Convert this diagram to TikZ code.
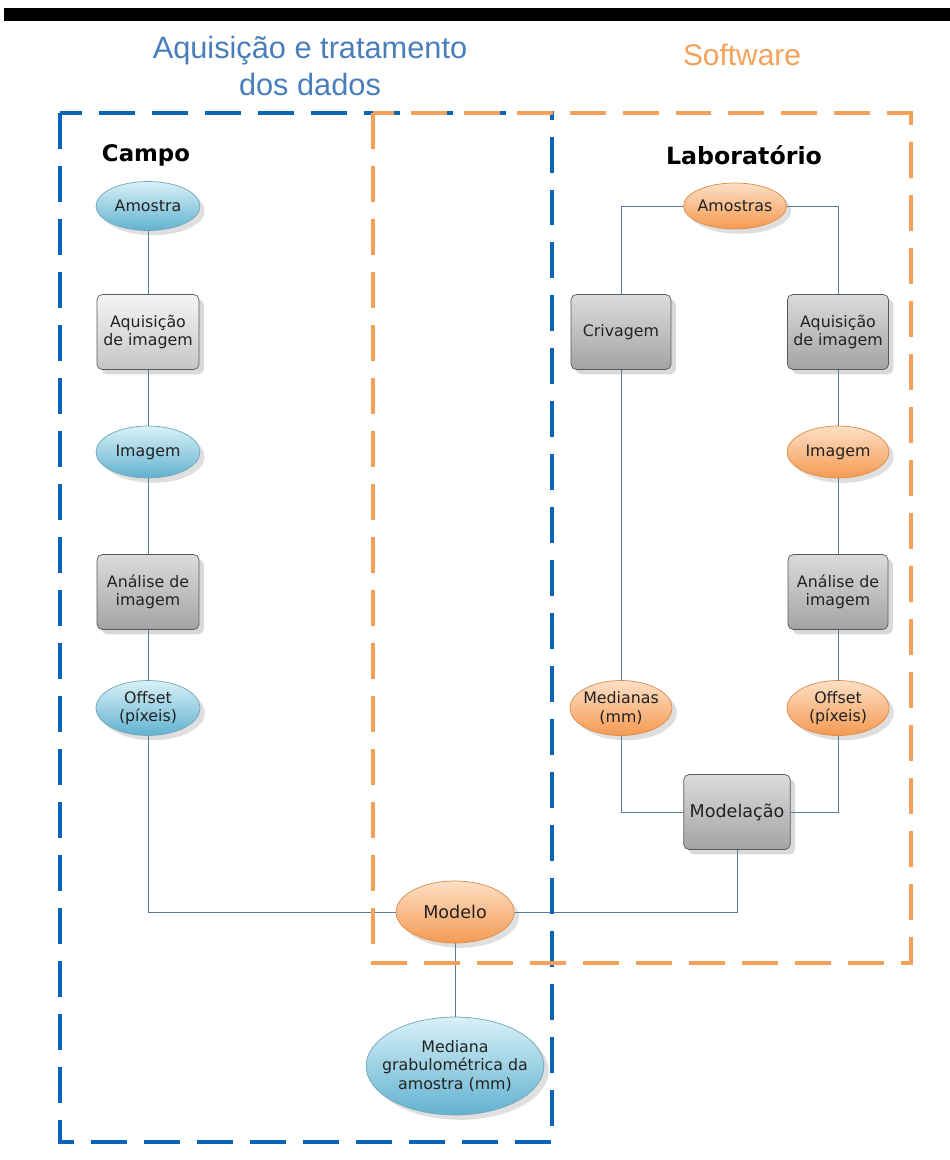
\documentclass[tikz,border=0pt]{standalone}
\usepackage{fontspec}
\setmainfont{DejaVu Sans}
\newfontfamily\titlefont{Liberation Sans}
\usepackage{tikz}
\usetikzlibrary{shapes,arrows,shadows,backgrounds}
\usepackage{xcolor}
\definecolor{campoblue}{HTML}{0A64B8}
\definecolor{softorange}{HTML}{F4A25A}
\definecolor{titleblue}{HTML}{4A7EBB}
\definecolor{linkgray}{HTML}{5A7A9A}
\definecolor{campotop}{HTML}{D8F1F7}
\definecolor{campobot}{HTML}{62B2D0}
\definecolor{labtop}{HTML}{FDE0C6}
\definecolor{labbot}{HTML}{F49A52}
\definecolor{texto}{HTML}{222222}

\tikzset{
	dado/.style={ellipse,inner xsep=-3pt,inner ysep=0pt,align=center,text=texto,font=\fontsize{9}{10.5}\selectfont,drop shadow={opacity=0.25}},
	dadocampo/.style={dado,top color=campotop,bottom color=campobot,draw=campobot!80!black!80},
	dadolab/.style={dado,top color=labtop,bottom color=labbot,draw=labbot!90!black},
	etapa/.style={rectangle,rounded corners=3pt,draw=gray!70!black,top color=gray!28,bottom color=gray!72,minimum width=2.04cm,minimum height=1.5cm,align=center,text=texto,font=\fontsize{9}{10.5}\selectfont,drop shadow={opacity=0.3}},
	link/.style={draw=linkgray,line width=0.5pt},
	caixa/.style={line width=1.9pt,dash pattern=on 0.72cm off 0.34cm}
}

\begin{document}
\begin{tikzpicture}[x=0.02cm,y=-0.02cm]
			\useasboundingbox (0,0) rectangle (950,1160);
			\fill[black] (4,8) rectangle (950,21); 		% barra
			% titulos
			\node[titleblue,font=\titlefont\fontsize{17.5}{21}\selectfont,align=center] (tAquis) at (310,66) {Aquisição e tratamento\\dos dados};
			\node[softorange,font=\titlefont\fontsize{17}{20}\selectfont] (tSoft) at (742,55) {Software};
			% caixas tracejadas
			\draw[caixa,campoblue] (60,113) rectangle (552,1142);
			\draw[caixa,softorange] (373,113) rectangle (911,963);
			\node[font=\bfseries\fontsize{13}{15}\selectfont] (campo) at (146,155) {Campo};
			\node[font=\bfseries\fontsize{13.5}{15}\selectfont] (lab) at (744,155) {Laboratório};
			% campo
			\node[dadocampo,minimum width=2.08cm,minimum height=0.98cm] (amostraC) at (148,206) {Amostra};
			\node[etapa,top color=gray!8,bottom color=gray!45] (aquisC) at (148,332) {Aquisição\\de imagem};
			\node[dadocampo,minimum width=2.08cm,minimum height=1.04cm] (imagemC) at (148,452) {Imagem};
			\node[etapa] (analiseC) at (148,592) {Análise de\\imagem};
			\node[dadocampo,minimum width=2.08cm,minimum height=1.1cm] (offsetC) at (148,708) {Offset\\(píxeis)};
			% laboratorio
			\node[dadolab,minimum width=2.06cm,minimum height=0.92cm] (amostrasL) at (735,206) {Amostras};
			\node[etapa,minimum width=2cm] (crivagem) at (621,332) {Crivagem};
			\node[etapa,minimum width=2cm] (aquisL) at (838,332) {Aquisição\\de imagem};
			\node[dadolab,minimum width=2.04cm,minimum height=1.04cm] (imagemL) at (838,452) {Imagem};
			\node[etapa,minimum width=2cm] (analiseL) at (838,592) {Análise de\\imagem};
			\node[dadolab,minimum width=2.04cm,minimum height=1.1cm] (medianas) at (621,708) {Medianas\\(mm)};
			\node[dadolab,minimum width=2.04cm,minimum height=1.1cm] (offsetL) at (838,708) {Offset\\(píxeis)};
			\node[etapa,minimum width=2cm,font=\fontsize{10}{12}\selectfont] (modelacao) at (737,812) {Modelação};
			% resultado
			\node[dadolab,minimum width=2.36cm,minimum height=1.24cm,font=\fontsize{10}{12}\selectfont] (modelo) at (455,912) {Modelo};
			\node[dadocampo,inner xsep=-0.2cm,minimum width=3.5cm,minimum height=1.96cm] (mediana) at (455,1066) {Mediana\\grabulométrica da\\amostra (mm)};
			% ligacoes
			\begin{scope}[on background layer]
			\draw[link] (amostraC) -- (aquisC);
			\draw[link] (aquisC) -- (imagemC);
			\draw[link] (imagemC) -- (analiseC);
			\draw[link] (analiseC) -- (offsetC);
			\draw[link] (offsetC) |- (modelo);
			\draw[link] (amostrasL) -| (crivagem);
			\draw[link] (amostrasL) -| (aquisL);
			\draw[link] (aquisL) -- (imagemL);
			\draw[link] (imagemL) -- (analiseL);
			\draw[link] (analiseL) -- (offsetL);
			\draw[link] (crivagem) -- (medianas);
			\draw[link] (medianas) |- (modelacao);
			\draw[link] (offsetL) |- (modelacao);
			\draw[link] (modelacao) |- (modelo);
			\draw[link] (modelo) -- (mediana);
			\end{scope}
\end{tikzpicture}
\end{document}
